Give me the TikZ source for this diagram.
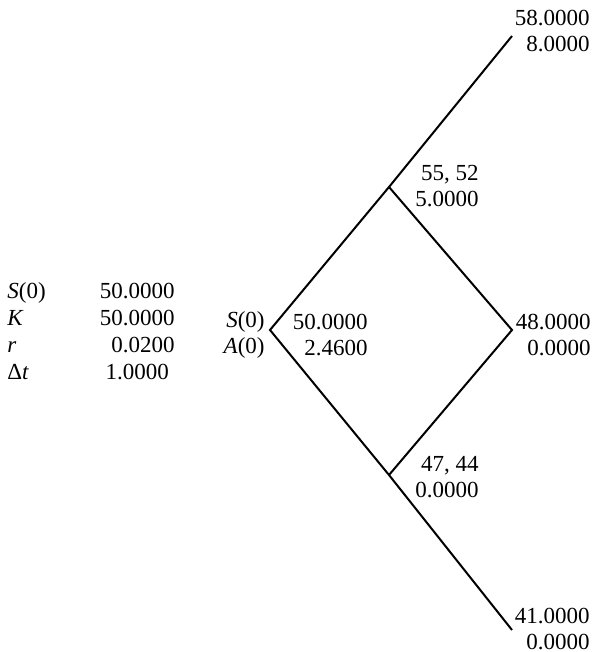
\documentclass[tikz,border=0pt]{standalone}
\usepackage{fontspec}
\setmainfont{Liberation Serif}
\begin{document}
\begin{tikzpicture}[
    x=0.5pt,
    y=-0.5pt,
    every node/.style={font=\fontsize{11.5}{13}\selectfont, inner sep=0pt},
    val/.style={align=right, anchor=base east},
    branch/.style={line width=1pt}
]
\useasboundingbox (0,0) rectangle (600,652);

% tree vertices
\coordinate (root) at (270,330);
\coordinate (u) at (389,187);
\coordinate (d) at (389,475);
\coordinate (uu) at (512,36);
\coordinate (ud) at (512,330);
\coordinate (dd) at (512,630);
\draw[branch] (uu) -- (u) -- (root) -- (d) -- (dd);
\draw[branch] (u) -- (ud) -- (d);

% node values (anchored at the last line)
\node[val] (vroot) at (368,355) {50.0000\\2.4600};
\node[val] (vu) at (479,206) {55, 52\\5.0000};
\node[val] (vd) at (479,497) {47, 44\\0.0000};
\node[val] (vuu) at (590,52) {58.0000\\8.0000};
\node[val] (vud) at (591,355) {48.0000\\0.0000};
\node[val] (vdd) at (590,649) {41.0000\\0.0000};
\node[val] (sa) at (265,353) {\textit{S}(0)\\\textit{A}(0)};

% parameters
\foreach \lab/\num [count=\i] in {
    {\textit{S}(0)}/50.0000,
    {\textit{K}}/50.0000,
    {\textit{r}}/0.0200,
    {Δ\textit{t}}/1.0000
}{
  \node[anchor=base west] (par\i) at (7,{298+27*(\i-1)}) {\lab};
  \node[val] (num\i) at (175,{298+27*(\i-1)}) {\num};
}
\end{tikzpicture}
\end{document}
